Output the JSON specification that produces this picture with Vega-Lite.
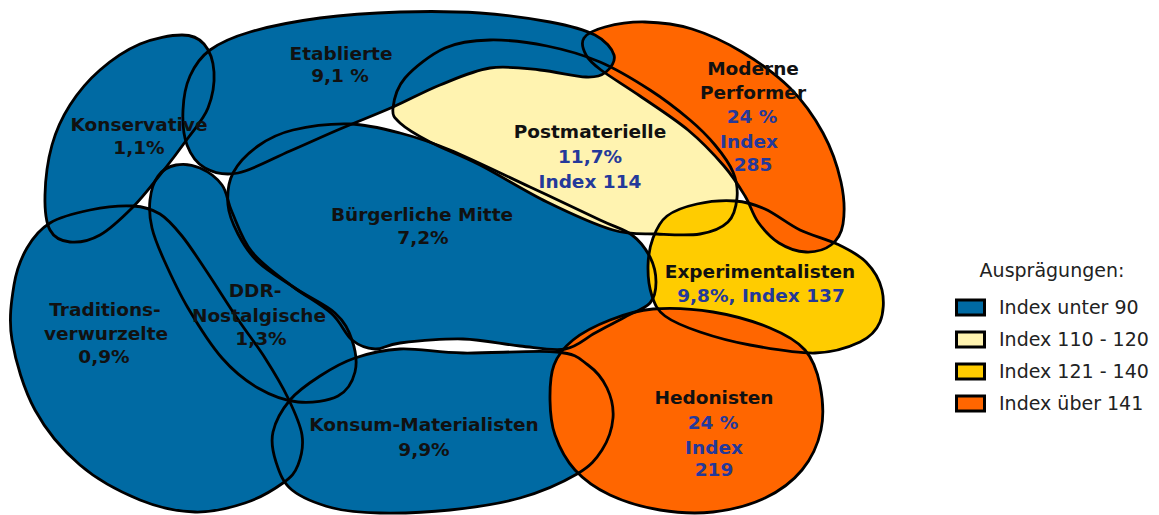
{
"$schema":"https://vega.github.io/schema/vega-lite/v6.json",
"width":1159,"height":515,"padding":0,"autosize":{"type":"none"},
"background":"white",
"config":{"view":{"stroke":null}},
"datasets":{
"milieus":[
{"m":"T","level":"Index unter 90"},{"m":"K","level":"Index unter 90"},{"m":"D","level":"Index unter 90"},{"m":"C","level":"Index unter 90"},{"m":"B","level":"Index unter 90"},
{"m":"P","level":"Index 110 - 120"},{"m":"X","level":"Index 121 - 140"},{"m":"M","level":"Index über 141"},{"m":"E","level":"Index unter 90"},{"m":"H","level":"Index über 141"}],
"pts":[
{"m":"T","i":0,"x":50,"y":223},{"m":"T","i":1,"x":90,"y":210},{"m":"T","i":2,"x":133,"y":206},{"m":"T","i":3,"x":160,"y":214},{"m":"T","i":4,"x":182,"y":236},{"m":"T","i":5,"x":207,"y":272},{"m":"T","i":6,"x":237,"y":318},{"m":"T","i":7,"x":265,"y":358},{"m":"T","i":8,"x":288,"y":398},{"m":"T","i":9,"x":302,"y":435},{"m":"T","i":10,"x":298,"y":465},{"m":"T","i":11,"x":283,"y":483},{"m":"T","i":12,"x":245,"y":503},{"m":"T","i":13,"x":195,"y":512},{"m":"T","i":14,"x":140,"y":500},{"m":"T","i":15,"x":80,"y":465},{"m":"T","i":16,"x":35,"y":410},{"m":"T","i":17,"x":12,"y":340},{"m":"T","i":18,"x":14,"y":285},{"m":"T","i":19,"x":27,"y":248},
{"m":"K","i":0,"x":182,"y":35},{"m":"K","i":1,"x":204,"y":44},{"m":"K","i":2,"x":214,"y":72},{"m":"K","i":3,"x":208,"y":108},{"m":"K","i":4,"x":188,"y":138},{"m":"K","i":5,"x":160,"y":175},{"m":"K","i":6,"x":133,"y":207},{"m":"K","i":7,"x":100,"y":235},{"m":"K","i":8,"x":70,"y":242},{"m":"K","i":9,"x":50,"y":230},{"m":"K","i":10,"x":45,"y":195},{"m":"K","i":11,"x":52,"y":145},{"m":"K","i":12,"x":70,"y":105},{"m":"K","i":13,"x":100,"y":70},{"m":"K","i":14,"x":140,"y":44},
{"m":"D","i":0,"x":150,"y":200},{"m":"D","i":1,"x":158,"y":176},{"m":"D","i":2,"x":176,"y":165},{"m":"D","i":3,"x":200,"y":168},{"m":"D","i":4,"x":222,"y":185},{"m":"D","i":5,"x":232,"y":212},{"m":"D","i":6,"x":252,"y":252},{"m":"D","i":7,"x":292,"y":286},{"m":"D","i":8,"x":335,"y":313},{"m":"D","i":9,"x":352,"y":340},{"m":"D","i":10,"x":355,"y":372},{"m":"D","i":11,"x":338,"y":396},{"m":"D","i":12,"x":298,"y":402},{"m":"D","i":13,"x":258,"y":388},{"m":"D","i":14,"x":222,"y":358},{"m":"D","i":15,"x":188,"y":308},{"m":"D","i":16,"x":164,"y":260},{"m":"D","i":17,"x":152,"y":228},
{"m":"C","i":0,"x":290,"y":400},{"m":"C","i":1,"x":320,"y":376},{"m":"C","i":2,"x":355,"y":358},{"m":"C","i":3,"x":400,"y":349},{"m":"C","i":4,"x":463,"y":353},{"m":"C","i":5,"x":557,"y":352},{"m":"C","i":6,"x":588,"y":365},{"m":"C","i":7,"x":607,"y":388},{"m":"C","i":8,"x":613,"y":418},{"m":"C","i":9,"x":602,"y":450},{"m":"C","i":10,"x":577,"y":474},{"m":"C","i":11,"x":520,"y":498},{"m":"C","i":12,"x":450,"y":510},{"m":"C","i":13,"x":380,"y":513},{"m":"C","i":14,"x":333,"y":508},{"m":"C","i":15,"x":292,"y":490},{"m":"C","i":16,"x":276,"y":462},{"m":"C","i":17,"x":273,"y":432},
{"m":"B","i":0,"x":233,"y":173},{"m":"B","i":1,"x":258,"y":146},{"m":"B","i":2,"x":293,"y":130},{"m":"B","i":3,"x":350,"y":124},{"m":"B","i":4,"x":400,"y":133},{"m":"B","i":5,"x":450,"y":150},{"m":"B","i":6,"x":530,"y":187},{"m":"B","i":7,"x":600,"y":220},{"m":"B","i":8,"x":632,"y":235},{"m":"B","i":9,"x":650,"y":257},{"m":"B","i":10,"x":656,"y":282},{"m":"B","i":11,"x":650,"y":303},{"m":"B","i":12,"x":625,"y":317},{"m":"B","i":13,"x":595,"y":333},{"m":"B","i":14,"x":565,"y":349},{"m":"B","i":15,"x":520,"y":346},{"m":"B","i":16,"x":463,"y":339},{"m":"B","i":17,"x":400,"y":343},{"m":"B","i":18,"x":375,"y":349},{"m":"B","i":19,"x":352,"y":340},{"m":"B","i":20,"x":332,"y":314},{"m":"B","i":21,"x":296,"y":289},{"m":"B","i":22,"x":258,"y":262},{"m":"B","i":23,"x":238,"y":234},{"m":"B","i":24,"x":228,"y":205},
{"m":"P","i":0,"x":393,"y":108},{"m":"P","i":1,"x":405,"y":78},{"m":"P","i":2,"x":445,"y":48},{"m":"P","i":3,"x":490,"y":40},{"m":"P","i":4,"x":547,"y":46},{"m":"P","i":5,"x":600,"y":62},{"m":"P","i":6,"x":650,"y":90},{"m":"P","i":7,"x":690,"y":120},{"m":"P","i":8,"x":715,"y":145},{"m":"P","i":9,"x":733,"y":172},{"m":"P","i":10,"x":737,"y":198},{"m":"P","i":11,"x":728,"y":222},{"m":"P","i":12,"x":700,"y":234},{"m":"P","i":13,"x":657,"y":234},{"m":"P","i":14,"x":613,"y":230},{"m":"P","i":15,"x":547,"y":202},{"m":"P","i":16,"x":480,"y":165},{"m":"P","i":17,"x":430,"y":142},{"m":"P","i":18,"x":400,"y":123},
{"m":"X","i":0,"x":653,"y":238},{"m":"X","i":1,"x":667,"y":216},{"m":"X","i":2,"x":697,"y":204},{"m":"X","i":3,"x":735,"y":201},{"m":"X","i":4,"x":765,"y":209},{"m":"X","i":5,"x":800,"y":230},{"m":"X","i":6,"x":837,"y":244},{"m":"X","i":7,"x":866,"y":262},{"m":"X","i":8,"x":882,"y":290},{"m":"X","i":9,"x":880,"y":322},{"m":"X","i":10,"x":860,"y":342},{"m":"X","i":11,"x":815,"y":353},{"m":"X","i":12,"x":750,"y":345},{"m":"X","i":13,"x":700,"y":332},{"m":"X","i":14,"x":665,"y":316},{"m":"X","i":15,"x":652,"y":296},{"m":"X","i":16,"x":648,"y":266},
{"m":"M","i":0,"x":584,"y":38},{"m":"M","i":1,"x":605,"y":27},{"m":"M","i":2,"x":645,"y":22},{"m":"M","i":3,"x":692,"y":29},{"m":"M","i":4,"x":742,"y":52},{"m":"M","i":5,"x":790,"y":88},{"m":"M","i":6,"x":823,"y":133},{"m":"M","i":7,"x":841,"y":182},{"m":"M","i":8,"x":843,"y":224},{"m":"M","i":9,"x":831,"y":245},{"m":"M","i":10,"x":806,"y":252},{"m":"M","i":11,"x":779,"y":243},{"m":"M","i":12,"x":758,"y":222},{"m":"M","i":13,"x":745,"y":196},{"m":"M","i":14,"x":724,"y":166},{"m":"M","i":15,"x":688,"y":130},{"m":"M","i":16,"x":640,"y":96},{"m":"M","i":17,"x":601,"y":70},{"m":"M","i":18,"x":586,"y":55},
{"m":"E","i":0,"x":183,"y":110},{"m":"E","i":1,"x":190,"y":76},{"m":"E","i":2,"x":210,"y":50},{"m":"E","i":3,"x":250,"y":32},{"m":"E","i":4,"x":320,"y":18},{"m":"E","i":5,"x":400,"y":12},{"m":"E","i":6,"x":480,"y":13},{"m":"E","i":7,"x":550,"y":22},{"m":"E","i":8,"x":595,"y":35},{"m":"E","i":9,"x":614,"y":55},{"m":"E","i":10,"x":606,"y":72},{"m":"E","i":11,"x":586,"y":77},{"m":"E","i":12,"x":540,"y":70},{"m":"E","i":13,"x":490,"y":68},{"m":"E","i":14,"x":440,"y":85},{"m":"E","i":15,"x":393,"y":107},{"m":"E","i":16,"x":340,"y":129},{"m":"E","i":17,"x":290,"y":151},{"m":"E","i":18,"x":238,"y":173},{"m":"E","i":19,"x":205,"y":168},{"m":"E","i":20,"x":187,"y":145},
{"m":"H","i":0,"x":653,"y":309},{"m":"H","i":1,"x":713,"y":312},{"m":"H","i":2,"x":770,"y":328},{"m":"H","i":3,"x":805,"y":350},{"m":"H","i":4,"x":820,"y":385},{"m":"H","i":5,"x":821,"y":430},{"m":"H","i":6,"x":802,"y":470},{"m":"H","i":7,"x":765,"y":498},{"m":"H","i":8,"x":713,"y":512},{"m":"H","i":9,"x":660,"y":510},{"m":"H","i":10,"x":610,"y":495},{"m":"H","i":11,"x":575,"y":470},{"m":"H","i":12,"x":555,"y":435},{"m":"H","i":13,"x":550,"y":400},{"m":"H","i":14,"x":554,"y":365},{"m":"H","i":15,"x":573,"y":340},{"m":"H","i":16,"x":610,"y":320}
],
"labels":[
{"t":"Etablierte","k":"name","x":341,"y":54},{"t":"9,1 %","k":"name","x":340,"y":76},
{"t":"Konservative","k":"name","x":139,"y":125},{"t":"1,1%","k":"name","x":139,"y":148},
{"t":"Moderne","k":"name","x":753,"y":69},{"t":"Performer","k":"name","x":753,"y":93},{"t":"24 %","k":"stat","x":752,"y":117},{"t":"Index","k":"stat","x":749,"y":142},{"t":"285","k":"stat","x":753,"y":165},
{"t":"Postmaterielle","k":"name","x":590,"y":132},{"t":"11,7%","k":"stat","x":590,"y":157},{"t":"Index 114","k":"stat","x":590,"y":182},
{"t":"Bürgerliche Mitte","k":"name","x":422,"y":215},{"t":"7,2%","k":"name","x":423,"y":238},
{"t":"Experimentalisten","k":"name","x":760,"y":272},{"t":"9,8%, Index 137","k":"stat","x":761,"y":296},
{"t":"DDR-","k":"name","x":255,"y":291},{"t":"Nostalgische","k":"name","x":259,"y":316},{"t":"1,3%","k":"name","x":261,"y":339},
{"t":"Traditions-","k":"name","x":105,"y":310},{"t":"verwurzelte","k":"name","x":106,"y":334},{"t":"0,9%","k":"name","x":104,"y":357},
{"t":"Konsum-Materialisten","k":"name","x":424,"y":425},{"t":"9,9%","k":"name","x":424,"y":450},
{"t":"Hedonisten","k":"name","x":714,"y":398},{"t":"24 %","k":"stat","x":713,"y":423},{"t":"Index","k":"stat","x":714,"y":448},{"t":"219","k":"stat","x":714,"y":470}
]},
"layer":[
{"data":{"name":"pts"},
 "transform":[{"lookup":"m","from":{"data":{"name":"milieus"},"key":"m","fields":["level"]}}],
 "mark":{"type":"line","interpolate":"cardinal-closed","strokeWidth":0,"strokeOpacity":0},
 "encoding":{
  "x":{"field":"x","type":"quantitative","scale":{"domain":[0,1159],"nice":false,"zero":false},"axis":null},
  "y":{"field":"y","type":"quantitative","scale":{"domain":[0,515],"reverse":true,"nice":false,"zero":false},"axis":null},
  "detail":{"field":"m"},
  "order":{"field":"i","type":"quantitative"},
  "fill":{"field":"level","type":"nominal",
   "scale":{"domain":["Index unter 90","Index 110 - 120","Index 121 - 140","Index über 141"],"range":["#006aa3","#fff3b0","#ffcc00","#ff6600"]},
   "legend":{"title":"Ausprägungen:","orient":"none","legendX":955,"legendY":262,
    "titleFont":"DejaVu Sans","titleFontSize":19,"titleFontWeight":"normal","titleColor":"#222","titleAnchor":"middle","titlePadding":11,
    "labelFont":"DejaVu Sans","labelFontSize":19,"labelColor":"#222","labelOffset":13,
    "symbolType":"M-1,-0.54L1,-0.54L1,0.54L-1,0.54Z","symbolSize":784,"symbolStrokeColor":"black","symbolStrokeWidth":3,"symbolOpacity":1,"rowPadding":2}}}},
{"data":{"name":"pts"},
 "mark":{"type":"line","interpolate":"cardinal-closed","stroke":"black","strokeWidth":2.8,"fill":null},
 "encoding":{
  "x":{"field":"x","type":"quantitative"},
  "y":{"field":"y","type":"quantitative"},
  "detail":{"field":"m"},
  "order":{"field":"i","type":"quantitative"}}},
{"data":{"name":"labels"},
 "mark":{"type":"text","font":"DejaVu Sans","fontWeight":"bold","fontSize":18.5,"baseline":"middle","align":"center"},
 "encoding":{
  "x":{"field":"x","type":"quantitative"},
  "y":{"field":"y","type":"quantitative"},
  "text":{"field":"t"},
  "color":{"field":"k","type":"nominal","scale":{"domain":["name","stat"],"range":["#111111","#24399a"]},"legend":null}}}
]
}
